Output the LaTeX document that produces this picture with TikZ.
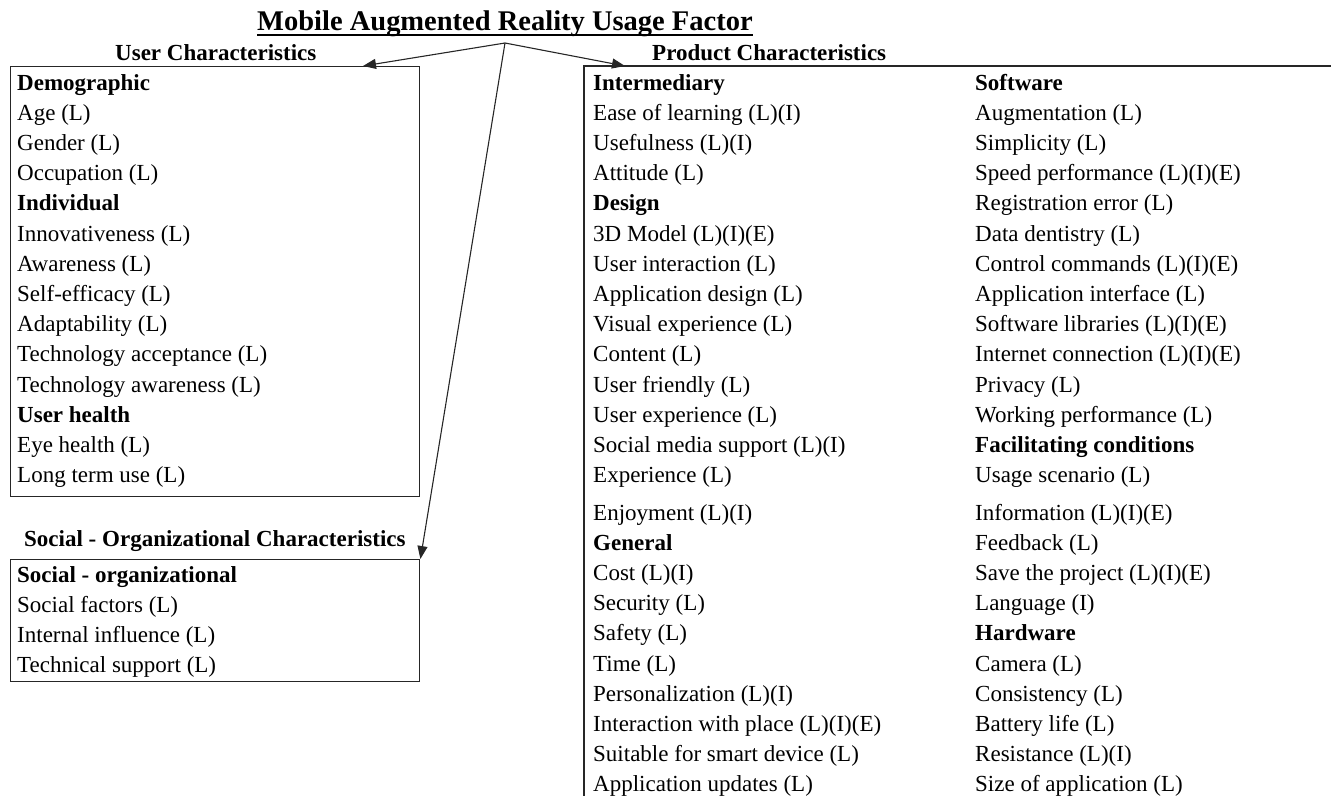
\documentclass[tikz,border=0pt]{standalone}
\usepackage{fontspec}
\setmainfont{Liberation Serif}
\usetikzlibrary{arrows.meta}
\begin{document}
\begin{tikzpicture}[x=1pt,y=-1pt,
  item/.style={anchor=base west, inner sep=0pt, font=\fontsize{23}{28}\selectfont},
  head/.style={item, font=\fontsize{23}{28}\selectfont\bfseries},
  frame/.style={line width=1.4pt, black!85},
  link/.style={line width=1.1pt, black!85, -{Triangle[length=13pt,width=10pt]}}]
\useasboundingbox (0,0) rectangle (1331,796);

% title
\node[anchor=base west, inner sep=0pt, font=\fontsize{28.5}{34}\selectfont\bfseries]
  (title) at (257,30) {Mobile Augmented Reality Usage Factor};
\draw[line width=2pt] ([yshift=-5pt]title.base west) -- ([yshift=-5pt]title.base east);

% group headings
\node[head] (huser) at (115,60) {User Characteristics};
\node[head] (hprod) at (652,60) {Product Characteristics};
\node[head] (hsoc) at (24,546) {Social - Organizational Characteristics};

% frames
\node[frame, draw, anchor=north west, minimum width=409pt, minimum height=430pt, inner sep=0pt]
  (userbox) at (10,66) {};
\node[frame, draw, anchor=north west, minimum width=409pt, minimum height=122pt, inner sep=0pt]
  (socbox) at (10,559) {};
\coordinate (pcorner) at (584,66);
\coordinate (pright) at (1331,66);
\coordinate (pbottom) at (584,796);
\draw[frame] (pright) -- (pcorner) -- (pbottom);

% arrows from the title
\coordinate (apex) at (505,43);
\coordinate (utip) at (363,66);
\coordinate (ptip) at (625,66);
\draw[link] (apex) -- (utip);
\draw[link] (apex) -- (ptip);
\draw[link] (apex) -- (socbox.north east);

% user characteristics
\foreach \t [count=\i from 0] in {\textbf{Demographic}, Age (L), Gender (L), Occupation (L),
  \textbf{Individual}, Innovativeness (L), Awareness (L), Self-efficacy (L), Adaptability (L),
  Technology acceptance (L), Technology awareness (L), \textbf{User health}, Eye health (L),
  Long term use (L)}
  \node[item] (u\i) at (17,{90+30.2*\i}) {\t};

% social - organizational characteristics
\foreach \t [count=\i from 0] in {\textbf{Social - organizational}, Social factors (L),
  Internal influence (L), Technical support (L)}
  \node[item] (s\i) at (17,{582+30*\i}) {\t};

% product characteristics, left column
\foreach \t [count=\i from 0] in {\textbf{Intermediary}, Ease of learning (L)(I), Usefulness (L)(I),
  Attitude (L), \textbf{Design}, 3D Model (L)(I)(E), User interaction (L), Application design (L),
  Visual experience (L), Content (L), User friendly (L), User experience (L),
  Social media support (L)(I), Experience (L)}
  \node[item] (pa\i) at (593,{90+30.2*\i}) {\t};
\foreach \t [count=\i from 0] in {Enjoyment (L)(I), \textbf{General}, Cost (L)(I), Security (L),
  Safety (L), Time (L), Personalization (L)(I), Interaction with place (L)(I)(E),
  Suitable for smart device (L), Application updates (L)}
  \node[item] (pb\i) at (593,{520+30.2*\i}) {\t};

% product characteristics, right column
\foreach \t [count=\i from 0] in {\textbf{Software}, Augmentation (L), Simplicity (L),
  Speed performance (L)(I)(E), Registration error (L), Data dentistry (L),
  Control commands (L)(I)(E), Application interface (L), Software libraries (L)(I)(E),
  Internet connection (L)(I)(E), Privacy (L), Working performance (L),
  \textbf{Facilitating conditions}, Usage scenario (L)}
  \node[item] (pc\i) at (975,{90+30.2*\i}) {\t};
\foreach \t [count=\i from 0] in {Information (L)(I)(E), Feedback (L), Save the project (L)(I)(E),
  Language (I), \textbf{Hardware}, Camera (L), Consistency (L), Battery life (L),
  Resistance (L)(I), Size of application (L)}
  \node[item] (pd\i) at (975,{520+30.2*\i}) {\t};
\end{tikzpicture}
\end{document}
